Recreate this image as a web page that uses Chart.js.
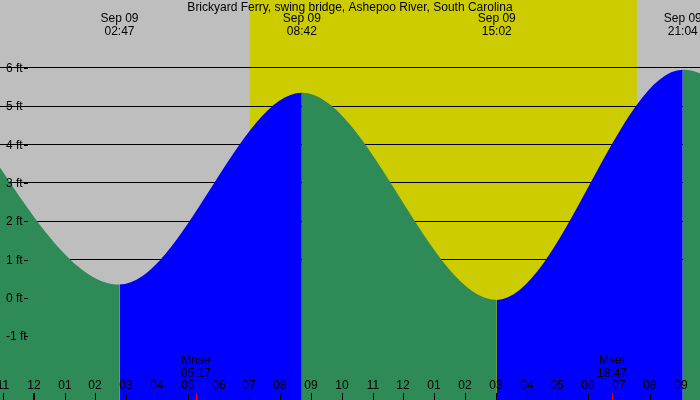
<!DOCTYPE html>
<html><head><meta charset="utf-8">
<script src="https://cdn.jsdelivr.net/npm/chart.js@4"></script>
<style>html,body{margin:0;padding:0;background:#bebebe}#wrap{width:700px;height:400px}</style>
</head><body><div id="wrap"><canvas id="c"></canvas></div>
<script>
// hours since midnight Sep 09, feet
const extremeHours = [-3.33, 2.78, 8.70, 15.03, 21.07, 27.3];
const extremeFeet = [5.9, 0.35, 5.35, -0.05, 5.95, 0.2];
const extremeLabels = ['', '02:47', '08:42', '15:02', '21:04', ''];
const dateLabel = 'Sep 09';
const ftTicks = [6, 5, 4, 3, 2, 1, 0, -1];
const hourTicks = [-1,0,1,2,3,4,5,6,7,8,9,10,11,12,13,14,15,16,17,18,19,20,21];
const sunrise = 7.01, sunset = 19.58;
const moonEvents = [{name: 'Mrise', time: '05:17', h: 5.28}, {name: 'Mset', time: '18:47', h: 18.78}];
const title = 'Brickyard Ferry, swing bridge, Ashepoo River, South Carolina';

const FONT = '12px "Liberation Sans Narrow", "Liberation Sans", Arial, sans-serif';
const BLUE = '#0000ff', GREEN = '#2e8b57';

const overlay = {
    id: 'overlay',
    beforeDraw(chart) {
        const {ctx, scales: {x}} = chart;
        ctx.save();
        ctx.fillStyle = '#bebebe';
        ctx.fillRect(0, 0, 700, 400);
        ctx.fillStyle = '#cccc00';
        ctx.fillRect(x.getPixelForValue(sunrise), 0, x.getPixelForValue(sunset) - x.getPixelForValue(sunrise), 400);
        ctx.restore();
    },
    afterDatasetsDraw(chart) {
        const {ctx, scales: {x, y}} = chart;
        ctx.save();
        ctx.font = FONT;
        ctx.fillStyle = '#000';
        ctx.strokeStyle = '#000';
        ctx.textAlign = 'left';
        ctx.textBaseline = 'middle';
        ftTicks.forEach(v => {
            const py = Math.round(y.getPixelForValue(v)) + 0.5;
            ctx.fillText(v + ' ft', 6, py);
            ctx.beginPath(); ctx.moveTo(24, py); ctx.lineTo(28, py); ctx.stroke();
        });
        ctx.textAlign = 'center';
        ctx.fillText(title, 350, 8);
        extremeHours.forEach((h, i) => {
            if (!extremeLabels[i]) return;
            const px = x.getPixelForValue(h);
            ctx.fillText(dateLabel, px, 19);
            ctx.fillText(extremeLabels[i], px, 32);
        });
        hourTicks.forEach(h => {
            const px = Math.round(x.getPixelForValue(h));
            let hh = ((h % 12) + 12) % 12;
            if (hh === 0) hh = 12;
            ctx.fillText(String(hh).padStart(2, '0'), px, 386);
            ctx.fillRect(px - (h === 0 ? 1 : 0), 393, h === 0 ? 2 : 1, 7);
        });
        moonEvents.forEach(m => {
            const px = Math.round(x.getPixelForValue(m.h));
            ctx.fillStyle = '#000';
            ctx.fillText(m.name, px, 361);
            ctx.fillText(m.time, px, 374);
            ctx.fillStyle = '#ff0000';
            ctx.fillRect(px, 393, 1, 7);
        });
        ctx.restore();
    }
};

new Chart(document.getElementById('c'), {
    type: 'line',
    data: {
        datasets: [{
            data: extremeHours.map((h, i) => ({x: h, y: extremeFeet[i]})),
            cubicInterpolationMode: 'monotone',
            borderWidth: 0,
            borderColor: 'rgba(0,0,0,0)',
            pointRadius: 0,
            fill: 'start',
            backgroundColor: GREEN,
            segment: {
                backgroundColor: c => c.p1.parsed.y > c.p0.parsed.y ? BLUE : GREEN
            }
        }]
    },
    plugins: [overlay],
    options: {
        responsive: true,
        maintainAspectRatio: false,
        animation: false,
        layout: {padding: 0},
        plugins: {legend: {display: false}, tooltip: {enabled: false}},
        scales: {
            x: {type: 'linear', min: -1.1, max: 21.63, display: false},
            y: {
                min: -2.66, max: 7.77,
                afterBuildTicks: axis => { axis.ticks = [1, 2, 3, 4, 5, 6].map(v => ({value: v})); },
                ticks: {display: false},
                border: {display: false},
                grid: {color: '#000', lineWidth: 1, drawTicks: false}
            }
        }
    }
});
</script></body></html>
